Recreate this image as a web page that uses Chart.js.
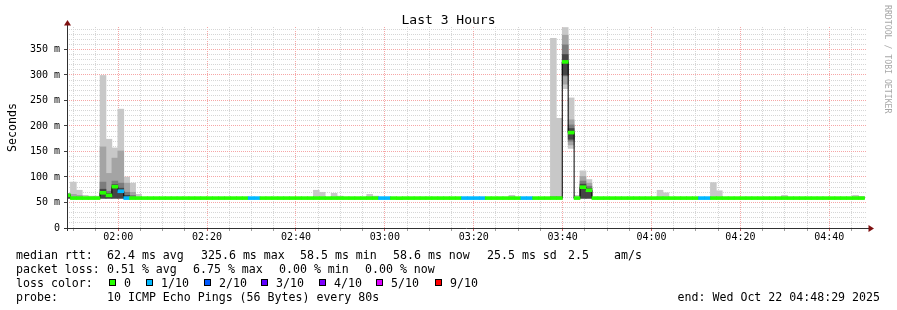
<!DOCTYPE html>
<html><head><meta charset="utf-8">
<script src="https://cdn.jsdelivr.net/npm/chart.js@4/dist/chart.umd.min.js"></script>
<style>html,body{margin:0;padding:0;background:#fff;}canvas{display:block;}</style>
</head><body>
<canvas id="c" width="897" height="310"></canvas>
<script>
// ---------- data ----------
const chartTitle = 'Last 3 Hours';
const yAxisTitle = 'Seconds';
const watermark = 'RRDTOOL / TOBI OETIKER';
const startTime = '01:48:29';
const endTime = '04:48:29';
const firstSampleEnd = '01:49:15';
const stepSeconds = 80;
const xTickLabels = ['02:00','02:20','02:40','03:00','03:20','03:40','04:00','04:20','04:40'];
const xMinorMinutes = 5;
const yMax = 394;
const yTickValues = [0,50,100,150,200,250,300,350];
const yTickLabels = ['0','50 m','100 m','150 m','200 m','250 m','300 m','350 m'];
const yMinorStep = 10;

// median RTT (ms) per 80 s sample
const median = [
64,58.6,58.6,58.6,58.6,58.6,69,64,81,72,58.6,58.6,58.6,58.6,58.6,
58.6,58.6,58.6,58.6,58.6,58.6,58.6,58.6,58.6,58.6,58.6,58.6,58.6,58.6,58.6,
58.6,58.6,58.6,58.6,58.6,58.6,58.6,58.6,58.6,58.6,58.6,58.6,58.6,58.6,58.6,
58.6,58.6,58.6,58.6,58.6,58.6,58.6,58.6,58.6,58.6,58.6,58.5,58.6,58.6,58.6,
58.6,58.6,58.6,58.6,58.6,58.6,58.6,58.6,58.6,58.6,58.6,58.6,58.6,58.6,58.6,
58.6,58.6,58.6,58.6,58.6,58.6,58.6,58.6,58.6,325.6,187,58.6,80,74,58.6,
58.6,58.6,58.6,58.6,58.6,58.6,58.6,58.6,58.6,58.6,58.6,58.6,58.6,58.6,58.6,
58.6,58.6,58.6,58.6,58.6,58.6,58.6,58.6,58.6,58.6,58.6,58.6,58.6,58.6,58.6,
58.6,58.6,58.6,58.6,58.6,58.6,58.6,58.6,58.6,58.6,58.6,58.6,58.6,58.6,58.6
];
// lost pings (out of 10) per sample
const lossCount = [
0,0,0,0,0,0,0,0,0,1,1,0,0,0,0,
0,0,0,0,0,0,0,0,0,0,0,0,0,0,0,
0,1,1,0,0,0,0,0,0,0,0,0,0,0,0,
0,0,0,0,0,0,0,0,1,1,0,0,0,0,0,
0,0,0,0,0,0,0,1,1,1,1,0,0,0,0,
0,0,1,1,0,0,0,0,0,0,0,0,0,0,0,
0,0,0,0,0,0,0,0,0,0,0,0,0,0,0,
0,0,1,1,0,0,0,0,0,0,0,0,0,0,0,
0,0,0,0,0,0,0,0,0,0,0,0,0,0,0
];
// smoke: outer band (min / max ping)
const smokeMax = [
68,90,74,64,62.5,62.5,299,174,157,233,100,88,66,59.5,59.5,
59.5,59.5,59.5,59.5,59.5,59.5,59.5,59.5,59.5,59.5,59.5,59.5,59.5,59.5,59.5,
59.5,59.5,59.5,59.5,59.5,59.5,59.5,59.5,59.5,59.5,59.5,59.5,74,70,59.5,
68,62.5,59.5,59.5,59.5,59.5,66,62.5,59.5,59.5,59.5,59.5,59.5,59.5,59.5,
59.5,59.5,59.5,59.5,59.5,59.5,59.5,59.5,59.5,59.5,59.5,59.5,59.5,59.5,59.5,
64,59.5,59.5,59.5,59.5,59.5,59.5,372,215,393,255,64,112,95,59.5,
59.5,59.5,59.5,59.5,59.5,59.5,59.5,59.5,59.5,59.5,74,69,59.5,59.5,59.5,
59.5,59.5,59.5,59.5,89,73,59.5,59.5,59.5,59.5,59.5,59.5,59.5,59.5,59.5,
59.5,64,59.5,59.5,59.5,59.5,59.5,59.5,59.5,59.5,59.5,59.5,59.5,64,62
];
const smokeMin = [
58.3,58.3,58.3,58.3,58.3,58.3,58.3,58.3,58.3,58.3,58.3,58.3,58.3,58.3,58.3,
58.3,58.3,58.3,58.3,58.3,58.3,58.3,58.3,58.3,58.3,58.3,58.3,58.3,58.3,58.3,
58.3,58.3,58.3,58.3,58.3,58.3,58.3,58.3,58.3,58.3,58.3,58.3,58.3,58.3,58.3,
58.3,58.3,58.3,58.3,58.3,58.3,58.3,58.3,58.3,58.3,58.3,58.3,58.3,58.3,58.3,
58.3,58.3,58.3,58.3,58.3,58.3,58.3,58.3,58.3,58.3,58.3,58.3,58.3,58.3,58.3,
58.3,58.3,58.3,58.3,58.3,58.3,58.3,58.3,58.3,273,156,58.3,58.3,58.3,58.3,
58.3,58.3,58.3,58.3,58.3,58.3,58.3,58.3,58.3,58.3,58.3,58.3,58.3,58.3,58.3,
58.3,58.3,58.3,58.3,58.3,58.3,58.3,58.3,58.3,58.3,58.3,58.3,58.3,58.3,58.3,
58.3,58.3,58.3,58.3,58.3,58.3,58.3,58.3,58.3,58.3,58.3,58.3,58.3,58.3,58.3
];
// smoke: 2nd ping pair
const smoke2Hi = [
67,66,64,59,59,59,159,107,137,151,88,70,59,59,59,
59,59,59,59,59,59,59,59,59,59,59,59,59,59,59,
59,59,59,59,59,59,59,59,59,59,59,59,59,59,59,
59,59,59,59,59,59,59,59,59,59,59,59,59,59,59,
59,59,59,59,59,59,59,59,59,59,59,59,59,59,59,
59,59,59,59,59,59,59,62,62,378,212,59,101,88,59,
59,59,59,59,59,59,59,59,59,59,59,59,59,59,59,
59,59,59,59,59,59,59,59,59,59,59,59,59,59,59,
59,59,59,59,59,59,59,59,59,59,59,59,59,59,59
];
const smoke2Lo = [
58.4,58.4,58.4,58.4,58.4,58.4,58.4,58.4,58.4,58.4,58.4,58.4,58.4,58.4,58.4,
58.4,58.4,58.4,58.4,58.4,58.4,58.4,58.4,58.4,58.4,58.4,58.4,58.4,58.4,58.4,
58.4,58.4,58.4,58.4,58.4,58.4,58.4,58.4,58.4,58.4,58.4,58.4,58.4,58.4,58.4,
58.4,58.4,58.4,58.4,58.4,58.4,58.4,58.4,58.4,58.4,58.4,58.4,58.4,58.4,58.4,
58.4,58.4,58.4,58.4,58.4,58.4,58.4,58.4,58.4,58.4,58.4,58.4,58.4,58.4,58.4,
58.4,58.4,58.4,58.4,58.4,58.4,58.4,58.4,58.4,282,163,58.4,58.4,58.4,58.4,
58.4,58.4,58.4,58.4,58.4,58.4,58.4,58.4,58.4,58.4,58.4,58.4,58.4,58.4,58.4,
58.4,58.4,58.4,58.4,58.4,58.4,58.4,58.4,58.4,58.4,58.4,58.4,58.4,58.4,58.4,
58.4,58.4,58.4,58.4,58.4,58.4,58.4,58.4,58.4,58.4,58.4,58.4,58.4,58.4,58.4
];
// smoke: 3rd ping pair
const smoke3Hi = [
66.5,58.9,58.9,58.9,58.9,58.9,90,72,92,88,70,64,58.9,58.9,58.9,
58.9,58.9,58.9,58.9,58.9,58.9,58.9,58.9,58.9,58.9,58.9,58.9,58.9,58.9,58.9,
58.9,58.9,58.9,58.9,58.9,58.9,58.9,58.9,58.9,58.9,58.9,58.9,58.9,58.9,58.9,
58.9,58.9,58.9,58.9,58.9,58.9,58.9,58.9,58.9,58.9,58.9,58.9,58.9,58.9,58.9,
58.9,58.9,58.9,58.9,58.9,58.9,58.9,58.9,58.9,58.9,58.9,58.9,58.9,58.9,58.9,
58.9,58.9,58.9,58.9,58.9,58.9,58.9,58.9,58.9,359,202,58.9,92,82,58.9,
58.9,58.9,58.9,58.9,58.9,58.9,58.9,58.9,58.9,58.9,58.9,58.9,58.9,58.9,58.9,
58.9,58.9,58.9,58.9,58.9,58.9,58.9,58.9,58.9,58.9,58.9,58.9,58.9,58.9,58.9,
58.9,58.9,58.9,58.9,58.9,58.9,58.9,58.9,58.9,58.9,58.9,58.9,58.9,58.9,58.9
];
const smoke3Lo = [
58.5,58.5,58.5,58.5,58.5,58.5,58.5,58.5,58.5,58.5,58.5,58.5,58.5,58.5,58.5,
58.5,58.5,58.5,58.5,58.5,58.5,58.5,58.5,58.5,58.5,58.5,58.5,58.5,58.5,58.5,
58.5,58.5,58.5,58.5,58.5,58.5,58.5,58.5,58.5,58.5,58.5,58.5,58.5,58.5,58.5,
58.5,58.5,58.5,58.5,58.5,58.5,58.5,58.5,58.5,58.5,58.5,58.5,58.5,58.5,58.5,
58.5,58.5,58.5,58.5,58.5,58.5,58.5,58.5,58.5,58.5,58.5,58.5,58.5,58.5,58.5,
58.5,58.5,58.5,58.5,58.5,58.5,58.5,58.5,58.5,298,170,58.5,58.5,58.5,58.5,
58.5,58.5,58.5,58.5,58.5,58.5,58.5,58.5,58.5,58.5,58.5,58.5,58.5,58.5,58.5,
58.5,58.5,58.5,58.5,58.5,58.5,58.5,58.5,58.5,58.5,58.5,58.5,58.5,58.5,58.5,
58.5,58.5,58.5,58.5,58.5,58.5,58.5,58.5,58.5,58.5,58.5,58.5,58.5,58.5,58.5
];
// smoke: innermost ping pair
const smoke4Hi = [
66,58.8,58.8,58.8,58.8,58.8,76,68,85,78,64,58.8,58.8,58.8,58.8,
58.8,58.8,58.8,58.8,58.8,58.8,58.8,58.8,58.8,58.8,58.8,58.8,58.8,58.8,58.8,
58.8,58.8,58.8,58.8,58.8,58.8,58.8,58.8,58.8,58.8,58.8,58.8,58.8,58.8,58.8,
58.8,58.8,58.8,58.8,58.8,58.8,58.8,58.8,58.8,58.8,58.8,58.8,58.8,58.8,58.8,
58.8,58.8,58.8,58.8,58.8,58.8,58.8,58.8,58.8,58.8,58.8,58.8,58.8,58.8,58.8,
58.8,58.8,58.8,58.8,58.8,58.8,58.8,58.8,58.8,340,195,58.8,86,78,58.8,
58.8,58.8,58.8,58.8,58.8,58.8,58.8,58.8,58.8,58.8,58.8,58.8,58.8,58.8,58.8,
58.8,58.8,58.8,58.8,58.8,58.8,58.8,58.8,58.8,58.8,58.8,58.8,58.8,58.8,58.8,
58.8,58.8,58.8,58.8,58.8,58.8,58.8,58.8,58.8,58.8,58.8,58.8,58.8,58.8,58.8
];
const smoke4Lo = [
58.5,58.5,58.5,58.5,58.5,58.5,58.5,58.5,58.5,58.5,58.5,58.5,58.5,58.5,58.5,
58.5,58.5,58.5,58.5,58.5,58.5,58.5,58.5,58.5,58.5,58.5,58.5,58.5,58.5,58.5,
58.5,58.5,58.5,58.5,58.5,58.5,58.5,58.5,58.5,58.5,58.5,58.5,58.5,58.5,58.5,
58.5,58.5,58.5,58.5,58.5,58.5,58.5,58.5,58.5,58.5,58.5,58.5,58.5,58.5,58.5,
58.5,58.5,58.5,58.5,58.5,58.5,58.5,58.5,58.5,58.5,58.5,58.5,58.5,58.5,58.5,
58.5,58.5,58.5,58.5,58.5,58.5,58.5,58.5,58.5,300,174,58.5,58.5,58.5,58.5,
58.5,58.5,58.5,58.5,58.5,58.5,58.5,58.5,58.5,58.5,58.5,58.5,58.5,58.5,58.5,
58.5,58.5,58.5,58.5,58.5,58.5,58.5,58.5,58.5,58.5,58.5,58.5,58.5,58.5,58.5,
58.5,58.5,58.5,58.5,58.5,58.5,58.5,58.5,58.5,58.5,58.5,58.5,58.5,58.5,58.5
];

const lossLabels = ['0','1/10','2/10','3/10','4/10','5/10','9/10'];
const lossColors = ['#26ff00','#00b8ff','#0059ff','#5e00ff','#7e00ff','#dd00ff','#ff0000'];
const statsRtt = ['median rtt:','62.4 ms avg','325.6 ms max','58.5 ms min','58.6 ms now','25.5 ms sd','2.5','am/s'];
const statsLoss = ['packet loss:','0.51 % avg','6.75 % max','0.00 % min','0.00 % now'];
const probeText = ['probe:','10 ICMP Echo Pings (56 Bytes) every 80s'];
const endText = 'end: Wed Oct 22 04:48:29 2025';

// ---------- style ----------
const MONO = '"DejaVu Sans Mono", "Liberation Mono", monospace';
const smokeColors = ['#c8c8c8','#a4a4a4','#7c7c7c','#454545'];
const gridColor = '#d6d6d6';
const mgridColor = '#f6a6a6';
const axisColor = '#303030';
const arrowColor = '#7f1010';
const bandHalf = 2.9;

// ---------- build ----------
const toMin = s => { const p = s.split(':').map(Number); return p[0]*60 + p[1] + (p[2]||0)/60; };
const pad = n => String(n).padStart(2,'0');
const fmt = v => pad(Math.floor(v/60)) + ':' + pad(Math.round(v%60));
const tStart = toMin(startTime), tEnd = toMin(endTime);
const stepMin = stepSeconds/60;
const t0 = toMin(firstSampleEnd) - stepMin/2;
const xs = median.map((_, i) => t0 + i*stepMin);
const xMajor = xTickLabels.map(toMin);
const xTicks = [];
for (let v = Math.ceil(tStart/xMinorMinutes)*xMinorMinutes; v <= tEnd; v += xMinorMinutes) xTicks.push(v);
const yTicks = [];
for (let v = 0; v <= yMax; v += yMinorStep) yTicks.push(v);
const isXMajor = v => xMajor.some(m => Math.abs(m - v) < 1e-6);

function smoke(lo, hi, color, order){
  return { type:'bar', data: xs.map((x,i)=>({x, y:[lo[i], hi[i]]})), backgroundColor: color,
    borderWidth:0, grouped:false, barPercentage:1, categoryPercentage:1, order };
}

const datasets = [
  smoke(smokeMin, smokeMax, smokeColors[0], 10),
  smoke(smoke2Lo, smoke2Hi, smokeColors[1], 9),
  smoke(smoke3Lo, smoke3Hi, smokeColors[2], 8),
  smoke(smoke4Lo, smoke4Hi, smokeColors[3], 7),
  { type:'line', data: xs.map((x,i)=>({x, y:median[i]})), borderColor:'#000', borderWidth:1,
    pointRadius:0, stepped:'middle', order:2 },
  { type:'bar', data: xs.map((x,i)=>({x, y:[median[i]-bandHalf, median[i]+bandHalf]})),
    backgroundColor: lossCount.map(l => lossColors[l]), borderWidth:0, grouped:false,
    barPercentage:1, categoryPercentage:1, order:1 }
];

const deco = {
  id:'deco',
  beforeDraw(chart){
    const c = chart.ctx; c.save(); c.fillStyle = '#fff'; c.fillRect(0,0,chart.width,chart.height); c.restore();
  },
  afterDraw(chart){
    const c = chart.ctx, a = chart.chartArea;
    c.save();
    c.strokeStyle = axisColor; c.lineWidth = 1;
    c.beginPath(); c.moveTo(a.left+0.5, a.bottom+3); c.lineTo(a.left+0.5, a.top-3); c.stroke();
    c.beginPath(); c.moveTo(a.left-3, a.bottom+0.5); c.lineTo(a.right+2, a.bottom+0.5); c.stroke();
    c.fillStyle = arrowColor;
    c.beginPath(); c.moveTo(a.left-3, a.top-1.5); c.lineTo(a.left+4, a.top-1.5); c.lineTo(a.left+0.5, a.top-7); c.closePath(); c.fill();
    c.beginPath(); c.moveTo(a.right+1.5, a.bottom-3); c.lineTo(a.right+1.5, a.bottom+4); c.lineTo(a.right+7, a.bottom+0.5); c.closePath(); c.fill();

    c.fillStyle = '#000';
    c.textBaseline = 'alphabetic';
    c.font = '13px ' + MONO; c.textAlign = 'center';
    c.fillText(chartTitle, chart.width/2, 23.5);

    c.save(); c.font = '11.6px ' + MONO; c.translate(15.5, (a.top+a.bottom)/2); c.rotate(-Math.PI/2);
    c.fillText(yAxisTitle, 0, 0); c.restore();

    c.save(); c.font = '8.2px ' + MONO; c.fillStyle = '#a8a8a8'; c.textAlign = 'left';
    c.translate(885, 5); c.rotate(Math.PI/2); c.fillText(watermark, 0, 0); c.restore();

    c.font = '11.6px ' + MONO; c.textAlign = 'left';
    const rttX = [16,107,201,300,393,487,568,614];
    statsRtt.forEach((t,i)=>c.fillText(t, rttX[i], 258.5));
    const lossX = [16,107,193,279,365];
    statsLoss.forEach((t,i)=>c.fillText(t, lossX[i], 272.5));
    c.fillText('loss color:', 16, 286.5);
    const sqX = [109,146,204,261,319,376,435];
    lossLabels.forEach((t,i)=>{
      c.fillStyle = lossColors[i]; c.fillRect(sqX[i], 279, 7, 7);
      c.strokeStyle = '#000'; c.strokeRect(sqX[i]+0.5, 279.5, 6, 6);
      c.fillStyle = '#000'; c.fillText(t, sqX[i]+15, 286.5);
    });
    c.fillText(probeText[0], 16, 300.5);
    c.fillText(probeText[1], 107, 300.5);
    c.textAlign = 'right';
    c.fillText(endText, 880, 300.5);
    c.restore();
  }
};

new Chart(document.getElementById('c'), {
  type:'bar',
  data:{ datasets },
  plugins:[deco],
  options:{
    responsive:false, animation:false, devicePixelRatio:1,
    layout:{ padding:{ left:0, top:27, right:30, bottom:0 } },
    plugins:{ legend:{display:false}, tooltip:{enabled:false}, title:{display:false} },
    scales:{
      x:{
        type:'linear', min:tStart, max:tEnd, offset:false,
        afterBuildTicks: s => { s.ticks = xTicks.map(v=>({value:v})); },
        afterFit: s => { s.height = 82; },
        ticks:{ autoSkip:false, maxRotation:0, minRotation:0, padding:0, color:'#000',
          font:{ family:MONO, size:10 },
          callback: v => xTickLabels.includes(fmt(v)) ? fmt(v) : '' },
        grid:{ offset:false, z:0, lineWidth:1, tickLength:3,
          color: ctx => isXMajor(ctx.tick.value) ? mgridColor : gridColor,
          tickColor: ctx => isXMajor(ctx.tick.value) ? '#c06060' : '#a0a0a0' },
        border:{ display:false, dash:[1,1] }
      },
      y:{
        type:'linear', min:0, max:yMax,
        afterBuildTicks: s => { s.ticks = yTicks.map(v=>({value:v})); },
        afterFit: s => { s.width = 67; },
        ticks:{ autoSkip:false, padding:4, color:'#000', font:{ family:MONO, size:10 },
          callback: v => { const i = yTickValues.indexOf(v); return i >= 0 ? yTickLabels[i] : ''; } },
        grid:{ z:0, lineWidth:1, tickLength:3,
          color: ctx => yTickValues.includes(ctx.tick.value) ? mgridColor : gridColor,
          tickColor: ctx => yTickValues.includes(ctx.tick.value) ? '#404040' : 'rgba(0,0,0,0)' },
        border:{ display:false, dash:[1,1] }
      }
    }
  }
});
</script>
</body></html>
